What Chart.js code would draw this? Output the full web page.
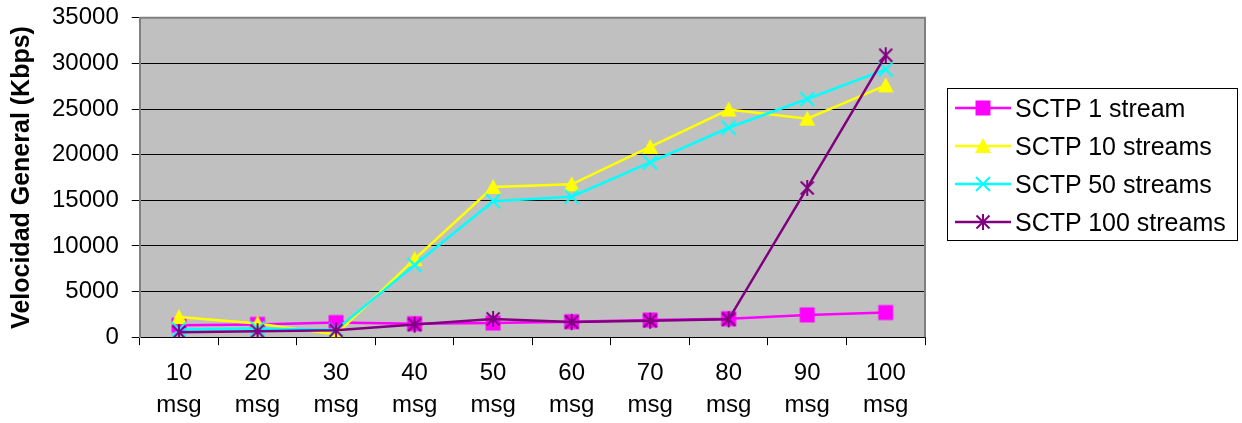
<!DOCTYPE html>
<html>
<head>
<meta charset="utf-8">
<script src="https://cdn.jsdelivr.net/npm/chart.js@4/dist/chart.umd.min.js"></script>
<style>
  body { margin: 0; background: #fff; }
  #wrap { position: relative; width: 1242px; height: 423px; }
  #legend {
    position: absolute; left: 947px; top: 88px; width: 289px; height: 151px;
    border: 1px solid #000; font: 25px "Liberation Sans", Arial, sans-serif; color: #000;
  }
  .row { display: flex; align-items: center; height: 38px; }
  .row canvas { margin-left: 7px; margin-right: 2px; }
</style>
</head>
<body>
<div id="wrap">
  <canvas id="speed-chart" width="1242" height="423"></canvas>
  <div id="legend"></div>
</div>
<script>
// message counts on the x axis
const messageCounts = ['10', '20', '30', '40', '50', '60', '70', '80', '90', '100']

// throughput in Kbps
const oneStream = [1300, 1400, 1600, 1480, 1550, 1700, 1880, 2030, 2440, 2700]
const tenStreams = [2200, 1500, 300, 8550, 16450, 16750, 20850, 24950, 23950, 27600]
const fiftyStreams = [850, 950, 800, 7900, 14900, 15400, 19150, 22950, 26100, 29350]
const hundredStreams = [550, 650, 750, 1380, 2000, 1650, 1800, 1950, 16350, 30900]

const seriesNames = ['SCTP 1 stream', 'SCTP 10 streams', 'SCTP 50 streams', 'SCTP 100 streams']
const yTicks = [0, 5000, 10000, 15000, 20000, 25000, 30000, 35000]

const FONT = '"Liberation Sans", Arial, sans-serif'

/*
Draw one marker shape centred on (x, y)
*/
const drawMarker = (ctx, kind, color, x, y) => {
	ctx.fillStyle = color
	ctx.strokeStyle = color
	ctx.lineWidth = 2
	ctx.beginPath()
	if (kind === 'square') {
		ctx.rect(x - 7.5, y - 7.5, 15, 15)
		ctx.fill()
	} else if (kind === 'triangle') {
		ctx.moveTo(x, y - 8)
		ctx.lineTo(x + 8, y + 7)
		ctx.lineTo(x - 8, y + 7)
		ctx.closePath()
		ctx.fill()
	} else if (kind === 'x') {
		ctx.moveTo(x - 7, y - 7); ctx.lineTo(x + 7, y + 7)
		ctx.moveTo(x + 7, y - 7); ctx.lineTo(x - 7, y + 7)
		ctx.stroke()
	} else {
		ctx.moveTo(x - 6.5, y - 6.5); ctx.lineTo(x + 6.5, y + 6.5)
		ctx.moveTo(x + 6.5, y - 6.5); ctx.lineTo(x - 6.5, y + 6.5)
		ctx.moveTo(x, y - 8); ctx.lineTo(x, y + 8)
		ctx.stroke()
	}
}

const markerImage = (kind, color) => {
	const c = document.createElement('canvas')
	c.width = 20
	c.height = 20
	drawMarker(c.getContext('2d'), kind, color, 10, 10)
	return c
}

const styles = [
	{ color: '#ff00ff', marker: 'square' },
	{ color: '#ffff00', marker: 'triangle' },
	{ color: '#00ffff', marker: 'x' },
	{ color: '#800080', marker: 'asterisk' }
]
const seriesData = [oneStream, tenStreams, fiftyStreams, hundredStreams]

/*
Legend drawn as html, line with marker like the original
*/
const legend = document.getElementById('legend')
seriesNames.forEach((name, i) => {
	const row = document.createElement('div')
	row.className = 'row'
	const icon = document.createElement('canvas')
	icon.width = 58
	icon.height = 20
	const ictx = icon.getContext('2d')
	ictx.strokeStyle = styles[i].color
	ictx.lineWidth = 2.5
	ictx.beginPath()
	ictx.moveTo(0, 10)
	ictx.lineTo(56, 10)
	ictx.stroke()
	drawMarker(ictx, styles[i].marker, styles[i].color, 28, 10)
	row.appendChild(icon)
	row.appendChild(document.createTextNode(name))
	legend.appendChild(row)
})

const plotBackground = {
	id: 'plotBackground',
	beforeDraw(chart) {
		const { ctx, chartArea: a } = chart
		ctx.save()
		ctx.fillStyle = '#c0c0c0'
		ctx.fillRect(a.left, a.top, a.right - a.left, a.bottom - a.top)
		ctx.restore()
	},
	beforeDatasetsDraw(chart) {
		const { ctx, chartArea: a } = chart
		ctx.save()
		ctx.strokeStyle = '#808080'
		ctx.lineWidth = 2
		ctx.beginPath()
		ctx.moveTo(a.left, a.top)
		ctx.lineTo(a.right, a.top)
		ctx.lineTo(a.right, a.bottom)
		ctx.stroke()
		ctx.restore()
	}
}

const ctx = document.getElementById('speed-chart').getContext('2d')

const speedChart = new Chart(ctx, {
	type: 'line',
	data: {
		labels: messageCounts.map(n => [n, 'msg']),
		datasets: seriesNames.map((name, i) => ({
			label: name,
			data: seriesData[i],
			borderColor: styles[i].color,
			backgroundColor: styles[i].color,
			borderWidth: 2.5,
			pointStyle: markerImage(styles[i].marker, styles[i].color),
			pointRadius: 8,
			order: 4 - i
		}))
	},
	options: {
		responsive: false,
		animation: false,
		layout: { padding: { left: 1, right: 317, top: 0, bottom: -10 } },
		plugins: {
			legend: { display: false },
			tooltip: { enabled: false }
		},
		scales: {
			x: {
				offset: true,
				grid: {
					offset: true,
					drawOnChartArea: false,
					color: '#000',
					tickLength: 8
				},
				border: { color: '#000', width: 1 },
				ticks: {
					color: '#000',
					padding: 12,
					maxRotation: 0,
					font: { family: FONT, size: 24, lineHeight: 1.33 }
				}
			},
			y: {
				min: 0,
				max: 35000,
				afterBuildTicks: scale => { scale.ticks = yTicks.map(v => ({ value: v })) },
				grid: {
					color: c => (c.tick && c.tick.value === 35000 ? 'rgba(0,0,0,0)' : '#000'),
					tickColor: '#000',
					tickLength: 8
				},
				border: { color: '#808080', width: 2 },
				ticks: {
					color: '#000',
					padding: 13,
					callback: v => String(v),
					font: { family: FONT, size: 24, lineHeight: 0.4 }
				},
				title: {
					display: true,
					text: 'Velocidad General (Kbps)',
					color: '#000',
					padding: { top: 6, bottom: 2 },
					font: { family: FONT, size: 25, weight: 'bold' }
				}
			}
		}
	},
	plugins: [plotBackground]
})
</script>
</body>
</html>
